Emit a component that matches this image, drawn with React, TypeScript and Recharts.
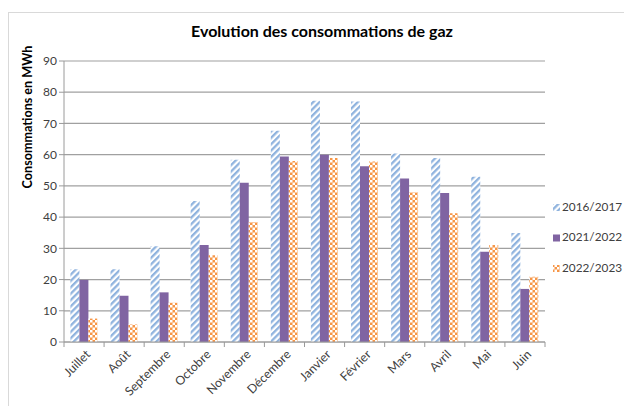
import React from 'react';
import { BarChart, Bar, XAxis, YAxis, CartesianGrid, Legend } from 'recharts';

const months = ['Juillet', 'Août', 'Septembre', 'Octobre', 'Novembre', 'Décembre', 'Janvier', 'Février', 'Mars', 'Avril', 'Mai', 'Juin'];
const seriesNames = ['2016/2017', '2021/2022', '2022/2023'];
const values2016 = [23.3, 23.3, 30.7, 45.2, 58.4, 67.7, 77.3, 77.0, 60.4, 58.9, 52.9, 34.9];
const values2021 = [19.9, 14.8, 15.9, 31.1, 51.0, 59.4, 60.0, 56.3, 52.4, 47.7, 28.9, 17.0];
const values2022 = [7.5, 5.6, 12.6, 27.8, 38.4, 58.0, 58.9, 57.8, 48.0, 41.2, 31.1, 20.9];
const yTicks = [0, 10, 20, 30, 40, 50, 60, 70, 80, 90];

const data = months.map((m, i) => ({
  month: m,
  s1: values2016[i],
  s2: values2021[i],
  s3: values2022[i],
}));

const fills = ['url(#stripeBlue)', '#8064A2', 'url(#checkOrange)'];
const keys = ['s1', 's2', 's3'];
const FONT = 'Lato, "Open Sans", sans-serif';

const XTick = (props: any) => {
  const { x, y, payload, index, width } = props;
  const half = (Number(width) || 481) / months.length / 2;
  const isLast = index === months.length - 1;
  return (
    <g>
      <line x1={x - half} x2={x - half} y1={y} y2={y + 5} stroke="#9a9a9a" strokeWidth={1} />
      {isLast && <line x1={x + half} x2={x + half} y1={y} y2={y + 5} stroke="#9a9a9a" strokeWidth={1} />}
      <g transform={`translate(${x + 5},${y + 11})`}>
        <text transform="rotate(-45)" textAnchor="end" dominantBaseline="middle" fontSize={12.3} fill="#404040" fontFamily={FONT}>
          {payload.value}
        </text>
      </g>
    </g>
  );
};

const YLabel = () => (
  <text x={29} y={117} transform="rotate(-90, 29, 117)" textAnchor="middle" dominantBaseline="middle" fontSize={12.6} fontWeight="bold" fill="#000" fontFamily={FONT}>
    Consommations en MWh
  </text>
);

const LegendContent = () => (
  <svg width={72} height={80} style={{ overflow: 'visible' }}>
    {seriesNames.map((n, i) => (
      <g key={n} transform={`translate(0,${i * 30.5})`}>
        <rect x={1} y={8} width={7} height={7} fill={fills[i]} />
        <text x={10} y={12} dominantBaseline="middle" fontSize={11.8} fill="#404040" fontFamily={FONT}>{n}</text>
      </g>
    ))}
  </svg>
);

export default function App() {
  return (
    <div style={{ position: 'absolute', left: 0, top: 0, width: 624, height: 406, background: '#fff', overflow: 'hidden' }}>
      <div style={{ position: 'absolute', left: 8, top: 12, width: 700, height: 500, border: '1px solid #d9d9d9' }} />
      <BarChart
        width={624}
        height={406}
        data={data}
        margin={{ top: 61, right: 7, bottom: 4, left: 0 }}
        barCategoryGap="16%"
        barGap={0}
        style={{ position: 'absolute', left: 0, top: 0 }}
      >
        <defs>
          <pattern id="stripeBlue" patternUnits="userSpaceOnUse" width={4.5} height={4.5} patternTransform="rotate(45)">
            <rect x={0} y={0} width={4.5} height={4.5} fill="#ffffff" />
            <rect x={0} y={0} width={2.3} height={4.5} fill="#8FB3DE" />
          </pattern>
          <pattern id="checkOrange" patternUnits="userSpaceOnUse" width={5} height={5}>
            <rect x={0} y={0} width={5} height={5} fill="#F79646" />
            <rect x={0} y={0} width={2.5} height={2.5} fill="#ffffff" />
            <rect x={2.5} y={2.5} width={2.5} height={2.5} fill="#ffffff" />
          </pattern>
        </defs>
        <text x={322} y={33} textAnchor="middle" dominantBaseline="middle" fontSize={16} fontWeight="bold" fill="#000" fontFamily={FONT}>
          Evolution des consommations de gaz
        </text>
        <CartesianGrid vertical={false} stroke="#a0a0a0" strokeWidth={1.2} />
        <XAxis
          dataKey="month"
          height={60}
          tick={<XTick />}
          interval={0}
          stroke="#9a9a9a"
          tickLine={false}
          tickSize={0}
          tickMargin={0}
        />
        <YAxis
          width={64}
          domain={[0, 90]}
          ticks={yTicks}
          interval={0}
          stroke="#9a9a9a"
          tickSize={5}
          tick={{ fontSize: 12, fill: '#404040', fontFamily: FONT }}
          label={<YLabel />}
        />
        <Legend
          layout="vertical"
          align="right"
          verticalAlign="top"
          content={<LegendContent />}
          wrapperStyle={{ left: 552, top: 196, width: 72, right: 'auto' }}
        />
        {keys.map((k, i) => (
          <Bar key={k} dataKey={k} name={seriesNames[i]} fill={fills[i]} isAnimationActive={false} />
        ))}
      </BarChart>
    </div>
  );
}
